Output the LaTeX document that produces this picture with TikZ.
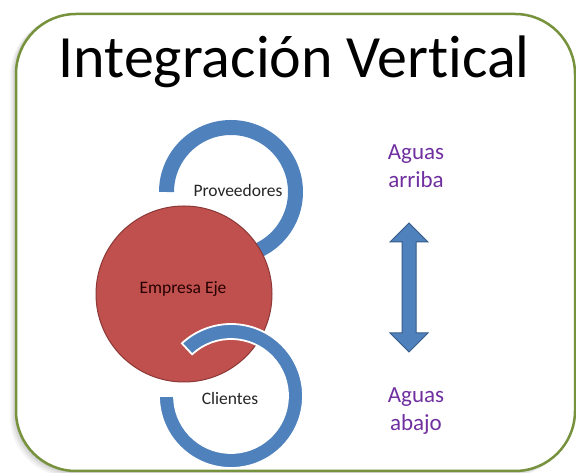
\documentclass[tikz,border=0pt]{standalone}
\usepackage{fontspec}
\setmainfont[Ligatures=NoCommon]{Carlito}
\definecolor{frameg}{HTML}{76923C}
\definecolor{ringb}{HTML}{4F81BD}
\definecolor{ringbd}{HTML}{385D8A}
\definecolor{redf}{HTML}{C0504D}
\definecolor{redd}{HTML}{8C3836}
\definecolor{purp}{HTML}{7030A0}
\definecolor{txt}{HTML}{262626}
\tikzset{
  label17/.style={text=txt, font=\fontsize{17.5}{20}\selectfont, inner sep=0pt},
  side/.style={text=purp, font=\fontsize{23}{28}\selectfont, align=center, inner sep=0pt},
  ringline/.style={draw=ringb, line width=15pt},
}
\begin{document}
\begin{tikzpicture}[x=1pt,y=1pt]
\useasboundingbox (0,0) rectangle (576,473);
% shadow
\foreach \o/\a in {6/0.04,4.5/0.05,3/0.06,1.5/0.07}{
  \fill[black, opacity=\a, rounded corners=60pt] (16-\o,2-\o) rectangle (575-\o,459-\o*0.3);
}
% frame
\filldraw[fill=white, draw=frameg, line width=2.5pt, rounded corners=60pt] (16,2) rectangle (575,459);
% title
\node (title) [anchor=base, font=\fontsize{60}{72}\selectfont, text=black, inner sep=0pt] at (294,395) {Integración Vertical};
% top ring (under red circle)
\coordinate (c1) at (231,281);
\draw[ringline] ([shift={(180:64.5)}]c1) arc[start angle=180, end angle=-100, radius=64.5];
% red circle
\node (eje) [circle, minimum size=176pt, inner sep=0pt, fill=redf, draw=redd, line width=1pt] at (184,179) {};
% bottom ring (over red circle, white outline)
\coordinate (c2) at (231,77);
\filldraw[fill=ringb, draw=white, line width=1.8pt]
  ([shift={(180:72)}]c2) arc[start angle=180, end angle=493, radius=72]
  -- ([shift={(493:57)}]c2) arc[start angle=493, end angle=180, radius=57] -- cycle;
% labels
\node (prov) [label17] at (238,283) {Proveedores};
\node (emp) [label17, text=black!85!red] at (183,184) {Empresa Eje};
\node (cli) [label17] at (230,75) {Clientes};
% side texts
\node (arriba) [side] at (416,307) {Aguas\\arriba};
\node (abajo) [side] at (416,62) {Aguas\\abajo};
% double arrow
\filldraw[fill=ringb, draw=ringbd, line width=1pt]
  (409,250) -- (428,231) -- (416,231) -- (416,140) -- (428,140) -- (409,121)
  -- (390,140) -- (402,140) -- (402,231) -- (390,231) -- cycle;
\end{tikzpicture}
\end{document}
